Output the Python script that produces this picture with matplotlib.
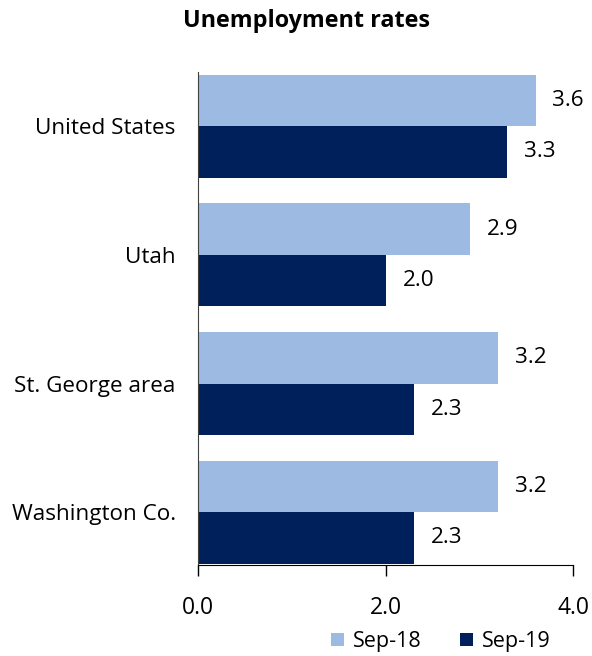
import matplotlib
matplotlib.use("Agg")
import matplotlib.pyplot as plt
import numpy as np

categories = ["United States", "Utah", "St. George area", "Washington Co."]
sep18 = [3.6, 2.9, 3.2, 3.2]
sep19 = [3.3, 2.0, 2.3, 2.3]
series_labels = ["Sep-18", "Sep-19"]
xticks = [0.0, 2.0, 4.0]

plt.rcParams['font.family'] = ['Open Sans', 'DejaVu Sans']

fig = plt.figure(figsize=(5.92, 6.56), dpi=100)
ax = fig.add_axes([0.3345, 0.1387, 0.6335, 0.7513])

c_light = "#9DBAE3"
c_dark = "#00205B"
h = 0.4
y = np.arange(len(categories))
b1 = ax.barh(y - h/2, sep18, height=h, color=c_light, label=series_labels[0])
b2 = ax.barh(y + h/2, sep19, height=h, color=c_dark, label=series_labels[1])

for bars, vals in ((b1, sep18), (b2, sep19)):
    for rect, v in zip(bars, vals):
        ax.text(v + 0.18, rect.get_y() + rect.get_height()/2, f"{v:.1f}",
                va="center", ha="left", fontsize=16.2, color="black")

ax.set_xlim(0, 4)
ax.set_ylim(len(categories) - 1 + 0.41, -0.42)
ax.set_yticks(y)
ax.set_yticklabels(categories, fontsize=16.2)
ax.tick_params(axis="y", length=0, pad=16)
ax.set_xticks(xticks)
ax.set_xticklabels([f"{t:.1f}" for t in xticks], fontsize=16.5)
ax.tick_params(axis="x", direction="out", length=8, width=1, pad=14)
for s in ("top", "right"):
    ax.spines[s].set_visible(False)
ax.spines["left"].set_color("#404040")
ax.spines["bottom"].set_color("black")

fig.text(0.517, 0.968, "Unemployment rates", ha="center", va="center",
         fontsize=16.8, fontweight="bold")

fig.legend(handles=[b1, b2], labels=series_labels, loc="center",
           bbox_to_anchor=(0.745, 0.022), ncol=2, frameon=False,
           fontsize=15.5, handlelength=0.6, handleheight=0.6,
           columnspacing=1.8, handletextpad=0.4)

fig.savefig("out.png", dpi=100)
